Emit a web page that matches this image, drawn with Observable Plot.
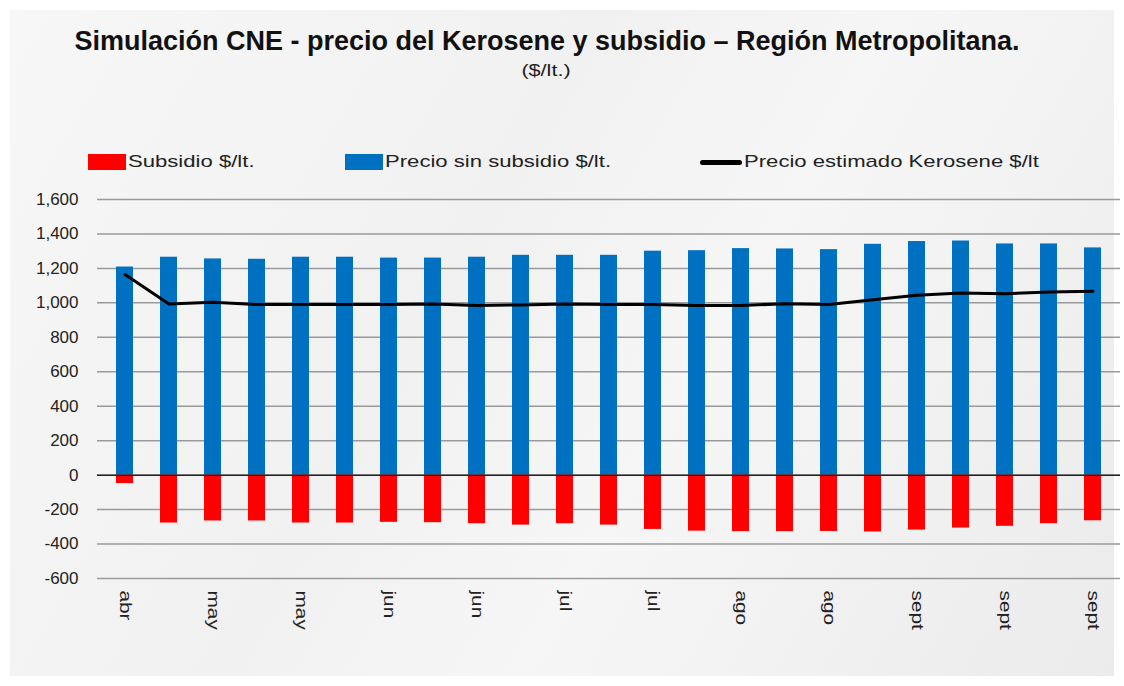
<!DOCTYPE html>
<html>
<head>
<meta charset="utf-8">
<script src="https://cdn.jsdelivr.net/npm/d3@7"></script>
<script src="https://cdn.jsdelivr.net/npm/@observablehq/plot@0.6"></script>
<style>
  body { margin:0; background:#fff; font-family:"Liberation Sans", Arial, sans-serif; }
  #frame { position:absolute; left:10px; top:10px; width:1104px; height:666px;
           background:linear-gradient(120deg,#f7f7f7 0%,#f1f1f1 40%,#f6f6f6 60%,#ebebeb 100%); }
  #title { position:absolute; left:0; width:1094px; top:26px; text-align:center; font-weight:bold; font-size:27px; color:#111; white-space:nowrap; }
  #subtitle { position:absolute; left:546px; top:61px; font-size:17px; color:#222; transform:translateX(-50%) scaleX(1.27); }
  .leg { position:absolute; top:152px; font-size:17px; color:#222; display:flex; align-items:center; white-space:nowrap; }
  .leg .t { display:inline-block; transform:scaleX(1.3); transform-origin:left center; }
  .sw { display:inline-block; width:38px; height:16px; margin-right:2px; }
  .ln { display:inline-block; width:42px; height:5px; background:#000; border-radius:3px; margin-right:2px; }
  #chart { position:absolute; left:0; top:180px; }
</style>
</head>
<body>
<div id="frame"></div>
<div id="title">Simulación CNE - precio del Kerosene y subsidio – Región Metropolitana.</div>
<div id="subtitle">($/lt.)</div>
<div class="leg" style="left:88px"><span class="sw" style="background:#ff0000"></span><span class="t">Subsidio $/lt.</span></div>
<div class="leg" style="left:345px"><span class="sw" style="background:#0070c0"></span><span class="t">Precio sin subsidio $/lt.</span></div>
<div class="leg" style="left:700px"><span class="ln"></span><span class="t">Precio estimado Kerosene $/lt</span></div>
<div id="chart"></div>
<script>
// 23 periods (weekly); only every other one carries a label
const periods = d3.range(23);
const tickLabels = ["abr","may","may","jun","jun","jul","jul","ago","ago","sept","sept","sept"];
const precioSinSubsidio = [1208,1265,1255,1253,1265,1265,1260,1260,1265,1276,1276,1276,1300,1303,1315,1313,1309,1340,1356,1359,1342,1342,1319];
const subsidio = [-49,-278,-266,-266,-278,-278,-274,-276,-282,-290,-282,-290,-315,-325,-328,-328,-327,-330,-319,-307,-297,-282,-265];
const precioEstimado = [1164,993,1003,990,990,990,990,993,985,988,993,990,990,985,985,995,990,1018,1044,1057,1053,1063,1067];
const yTicks = d3.range(-600, 1601, 200);

const rows = periods.map((p, i) => ({p, blue: precioSinSubsidio[i], red: subsidio[i], line: precioEstimado[i]}));
const tickPos = periods.filter((p, i) => i % 2 === 0);
const labelOf = new Map(tickPos.map((p, i) => [p, tickLabels[i]]));
const fmt = d => d3.format(",")(d).replace("\u2212", "-");

const chart = Plot.plot({
  width: 1124,
  height: 480,
  marginTop: 19,
  marginBottom: 82,
  marginLeft: 97,
  marginRight: 4,
  style: {background: "transparent", fontFamily: "Liberation Sans, Arial, sans-serif", color: "#222"},
  x: {domain: periods, paddingInner: 0.62, paddingOuter: 0.31, axis: null, label: null},
  y: {domain: [-600, 1600], axis: null, label: null},
  marks: [
    Plot.gridY(yTicks, {stroke: "#9a9a9a", strokeOpacity: 1, strokeWidth: 1.5}),
    Plot.barY(rows, {x: "p", y: "blue", fill: "#0070c0"}),
    Plot.barY(rows, {x: "p", y: "red", fill: "#ff0000"}),
    Plot.ruleY([0], {stroke: "#222", strokeWidth: 1.5}),
    Plot.line(rows, {x: "p", y: "line", stroke: "#000", strokeWidth: 3}),
    Plot.axisY(yTicks, {tickSize: 0, tickPadding: 19, fontSize: 17, tickFormat: fmt, fill: "#222", label: null}),
    Plot.axisX(tickPos, {tickSize: 0, tickPadding: 12, tickRotate: 90, fontSize: 16, tickFormat: d => labelOf.get(d), fill: "#222", label: null})
  ]
});
chart.querySelectorAll('[aria-label="x-axis tick label"] text').forEach(t => {
  const tr = t.getAttribute("transform") || "";
  t.setAttribute("transform", tr + " scale(1.3,1)");
});
document.getElementById("chart").appendChild(chart);
</script>
</body>
</html>
